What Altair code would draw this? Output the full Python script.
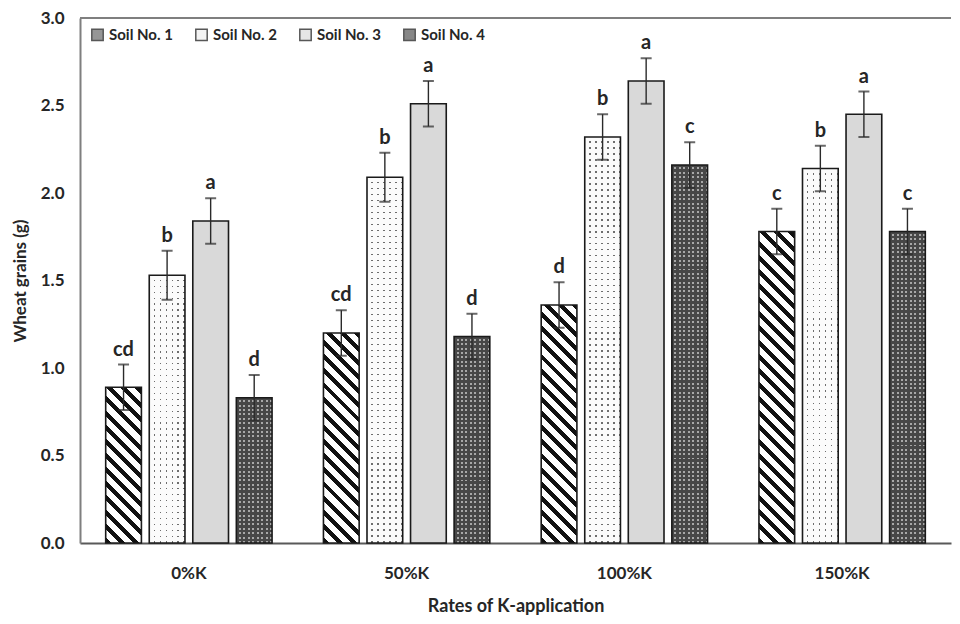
import math
import altair as alt

# ---------------- data ----------------
rates = ["0%K", "50%K", "100%K", "150%K"]
soils = ["Soil No. 1", "Soil No. 2", "Soil No. 3", "Soil No. 4"]

soil1 = [0.89, 1.20, 1.36, 1.78]
soil2 = [1.53, 2.09, 2.32, 2.14]
soil3 = [1.84, 2.51, 2.64, 2.45]
soil4 = [0.83, 1.18, 2.16, 1.78]

err1 = [0.13, 0.13, 0.13, 0.13]
err2 = [0.14, 0.14, 0.13, 0.13]
err3 = [0.13, 0.13, 0.13, 0.13]
err4 = [0.13, 0.13, 0.13, 0.13]

let1 = ["cd", "cd", "d", "c"]
let2 = ["b", "b", "b", "b"]
let3 = ["a", "a", "a", "a"]
let4 = ["d", "d", "c", "c"]

values = [soil1, soil2, soil3, soil4]
errors = [err1, err2, err3, err4]
letters = [let1, let2, let3, let4]

# ---------------- layout / style ----------------
W, H = 871, 525
YMAX = 3.0
P_IN, P_OUT = 0.18, 0.59
BAND = W / len(rates)
STEP = BAND / (len(soils) - P_IN + 2 * P_OUT)
BW = STEP * (1 - P_IN)

TXT = "#262626"
FONT = "Lato"
NARROW = "Liberation Sans Narrow, Arial Narrow, Lato, sans-serif"
CLEAR = "rgba(255,255,255,0)"


def r6(x):
    return round(x, 6)


def axis_stripes(n_px, period, on_frac, on_color, off_color, horizontal):
    """Stripes along one axis of the bar's bounding box (gradient fill)."""
    n = max(1, int(round(n_px / period)))
    d = 1.0 / n
    stops = []
    for k in range(n):
        a = k * d
        b = a + on_frac * d
        stops += [
            {"offset": r6(a), "color": on_color},
            {"offset": r6(b), "color": on_color},
            {"offset": r6(b), "color": off_color},
            {"offset": r6(a + d), "color": off_color},
        ]
    if horizontal:
        return {"gradient": "linear", "x1": 0, "y1": 0, "x2": 0, "y2": 1, "stops": stops}
    return {"gradient": "linear", "x1": 0, "y1": 0, "x2": 1, "y2": 0, "stops": stops}


def hatch(w, h, period=10.0, on_frac=0.42):
    """45 degree '\\' stripes for a bar of w x h pixels."""
    r = h / w
    dt = period * math.sqrt(2) / (w * (1 + r * r))
    tmax = (1 + r) / (1 + r * r)
    stops = []
    t = 0.0
    while t < tmax + dt:
        a, b, c = t, t + on_frac * dt, t + dt
        if c > 1:
            break
        stops += [
            {"offset": r6(a), "color": "#111111"},
            {"offset": r6(b), "color": "#111111"},
            {"offset": r6(b), "color": "#ffffff"},
            {"offset": r6(c), "color": "#ffffff"},
        ]
        t = c
    return {"gradient": "linear", "x1": 0, "y1": 1, "x2": 1, "y2": r6(1 - r), "stops": stops}


rows = []
for j, soil in enumerate(soils):
    for i, rate in enumerate(rates):
        v = values[j][i]
        e = errors[j][i]
        h = v / YMAX * H
        if j == 0:
            g0, g1, g2 = hatch(BW, h), "transparent", "transparent"
        elif j == 1:
            g0 = "#6e6e6e"
            g1 = axis_stripes(BW, 6.0, 0.74, "#fbfbfb", CLEAR, False)
            g2 = axis_stripes(h, 6.0, 0.74, "#fbfbfb", CLEAR, True)
        elif j == 2:
            g0, g1, g2 = "#d9d9d9", "transparent", "transparent"
        else:
            g0 = "#a8a8a8"
            g1 = axis_stripes(BW, 4.4, 0.55, "#474747", CLEAR, False)
            g2 = axis_stripes(h, 4.4, 0.55, "#474747", CLEAR, True)
        rows.append({
            "rate": rate, "soil": soil, "value": v, "lo": v - e, "hi": v + e,
            "letter": letters[j][i], "g0": g0, "g1": g1, "g2": g2,
        })

data = alt.Data(values=rows)

x_enc = alt.X(
    "rate:N", sort=rates, scale=alt.Scale(paddingInner=0, paddingOuter=0),
    axis=alt.Axis(
        title="Rates of K-application", labelAngle=0, ticks=False,
        domainColor="#595959", domainWidth=2, labelPadding=22, titlePadding=16,
        labelFont=FONT, labelFontSize=17, labelFontWeight="bold", labelColor=TXT,
        titleFont=FONT, titleFontSize=18, titleFontWeight="bold", titleColor=TXT,
    ),
)
xo_enc = alt.XOffset("soil:N", sort=soils, scale=alt.Scale(paddingInner=P_IN, paddingOuter=P_OUT))
y_scale = alt.Scale(domain=[0, YMAX], nice=False)
y_axis = alt.Axis(
    title="Wheat grains (g)", values=[0, 0.5, 1, 1.5, 2, 2.5, 3], format=".1f",
    grid=False, ticks=False, domainColor="#7f7f7f", domainWidth=2,
    labelPadding=16, titlePadding=11,
    labelFont=FONT, labelFontSize=17, labelFontWeight="bold", labelColor=TXT,
    titleFont=FONT, titleFontSize=17, titleFontWeight="bold", titleColor=TXT,
)

base = alt.Chart(data).encode(x=x_enc, xOffset=xo_enc)

bars0 = base.mark_bar().encode(
    y=alt.Y("value:Q", scale=y_scale, axis=y_axis),
    fill=alt.Fill("g0:N", scale=None),
)
bars1 = base.mark_bar().encode(y="value:Q", fill=alt.Fill("g1:N", scale=None))
bars2 = base.mark_bar().encode(y="value:Q", fill=alt.Fill("g2:N", scale=None))
outline = base.mark_bar(fill="transparent", stroke="#1a1a1a", strokeWidth=1.6).encode(y="value:Q")

err_rule = base.mark_rule(color="#2a2a2a", strokeWidth=1.4).encode(y="lo:Q", y2="hi:Q")
cap_hi = base.mark_tick(color="#2a2a2a", size=11, thickness=2).encode(y="hi:Q")
cap_lo = base.mark_tick(color="#2a2a2a", size=11, thickness=2).encode(y="lo:Q")

labels = base.mark_text(
    baseline="bottom", dy=-5, font=NARROW, fontSize=20, fontWeight="bold", color=TXT,
).encode(y="hi:Q", text="letter:N")

legend_layer = alt.Chart(data).transform_filter("datum.value < 0").mark_square(
    filled=True, stroke="#111111", strokeWidth=1.5,
).encode(
    color=alt.Color(
        "soil:N",
        scale=alt.Scale(domain=soils, range=["#6a6a6a", "#efefef", "#dcdcdc", "#555555"]),
        legend=alt.Legend(
            title=None, orient="none", legendX=10, legendY=9, direction="horizontal",
            columns=4, columnPadding=19, symbolType="square", symbolSize=130,
            symbolStrokeColor="#111111", symbolStrokeWidth=1.5, labelOffset=4,
            labelFont=NARROW, labelFontSize=15, labelFontWeight="bold", labelColor=TXT,
        ),
    )
)

top_line = alt.Chart(alt.Data(values=[{"k": 0}])).mark_rule(
    color="#7f7f7f", strokeWidth=2
).encode(y=alt.value(0))

chart = alt.layer(
    bars0, bars1, bars2, outline, err_rule, cap_hi, cap_lo, labels, legend_layer, top_line
).properties(
    width=W, height=H, padding={"left": 3, "top": 1, "right": 0, "bottom": 0},
).configure_view(stroke="transparent")

chart.save("out.html", embed_options={"renderer": "svg", "actions": False})
